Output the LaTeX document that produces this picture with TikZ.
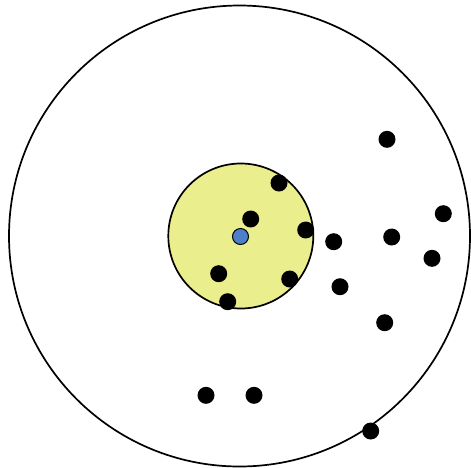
\documentclass[tikz,border=0pt]{standalone}
\definecolor{yel}{HTML}{EAEE8C}
\definecolor{blu}{HTML}{4F7FC8}
\begin{document}
\begin{tikzpicture}[x=1pt,y=-1pt,
  dot/.style={circle,fill=black,inner sep=0pt,minimum size=17pt},
  ring/.style={circle,draw=black,line width=1.7pt,inner sep=0pt}]
\useasboundingbox (0,0) rectangle (471,467);
\node[ring,minimum size=461pt] (outer) at (239.5,236) {};
\node[ring,fill=yel,minimum size=145pt] (inner) at (240.8,236) {};
\node[circle,fill=blu,draw=black,line width=1pt,inner sep=0pt,minimum size=16pt] (c) at (240.5,236.5) {};
\node[dot] (d1) at (279,183) {};
\node[dot] (d2) at (250.7,219) {};
\node[dot] (d3) at (305.7,230) {};
\node[dot] (d4) at (218.7,273.7) {};
\node[dot] (d5) at (289.7,279) {};
\node[dot] (d6) at (227.7,301.7) {};
\node[dot] (d7) at (387,139.3) {};
\node[dot] (d8) at (443.3,213.7) {};
\node[dot] (d9) at (391.7,237) {};
\node[dot] (d10) at (333.7,241.7) {};
\node[dot] (d11) at (432,258.3) {};
\node[dot] (d12) at (340,286.7) {};
\node[dot] (d13) at (384.7,322.7) {};
\node[dot] (d14) at (206,395.3) {};
\node[dot] (d15) at (254,395.3) {};
\node[dot] (d16) at (370.7,431) {};
\end{tikzpicture}
\end{document}
